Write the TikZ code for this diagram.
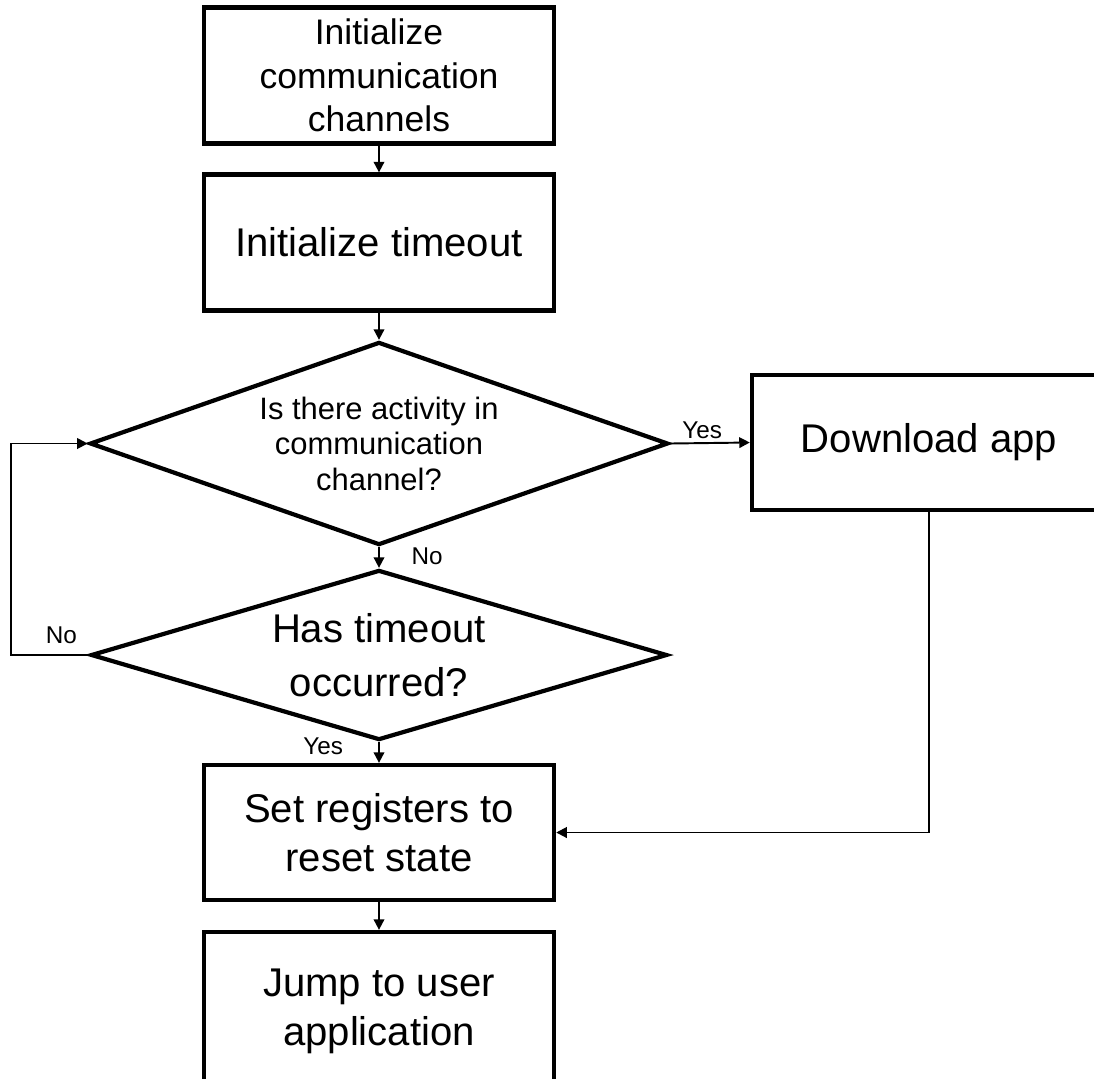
\documentclass[tikz,border=0pt]{standalone}
\usepackage{fontspec}
\setmainfont{Liberation Sans}
\usetikzlibrary{shapes.geometric,arrows.meta}
\tikzset{
 blk/.style={draw,line width=1.2pt,minimum width=3.5cm,minimum height=1.36cm,align=center,inner sep=0pt},
 dec/.style={draw,diamond,line width=1.2pt,align=center,inner sep=0pt},
 conn/.style={line width=0.55pt,-{Triangle[length=3pt,width=3pt]}},
 lbl/.style={font=\fontsize{6.9}{8}\selectfont,inner sep=1pt},
}
\begin{document}
\begin{tikzpicture}[x=0.01cm,y=-0.01cm]
\useasboundingbox(0,0)rectangle(1094,1078);
\node[blk,font=\fontsize{10.1}{12.4}\selectfont](chan)at(379,75.5){Initialize\\communication\\channels};
\node[blk,font=\fontsize{11.4}{14}\selectfont](tmo)at(379,242.5){Initialize timeout};
\node[dec,shape aspect=2.85,minimum width=5.78cm,minimum height=2.03cm,font=\fontsize{8.8}{10.1}\selectfont](act)at(379,443.5){Is there activity in\\communication\\channel?};
\node[dec,shape aspect=3.38,minimum width=5.76cm,minimum height=1.7cm,font=\fontsize{11.4}{15.5}\selectfont](has)at(379,655){Has timeout\\occurred?};
\node[blk,minimum width=3.54cm,minimum height=1.35cm,font=\fontsize{11.4}{14}\selectfont](dl)at(929,442.5){Download app};
\node[blk,minimum height=1.35cm,font=\fontsize{11.4}{14}\selectfont](reg)at(379,832.5){Set registers to\\reset state};
\node[blk,minimum height=1.58cm,font=\fontsize{11.4}{14}\selectfont](jump)at(379,1011){Jump to user\\application};
% flow
\draw[conn](chan)--(tmo);
\draw[conn](tmo)--(act);
\draw[conn](act.east)--node[lbl,above,pos=0.4]{Yes}(dl.west);
\draw[conn](act.south)--node[lbl,right,pos=0.45,xshift=8pt]{No}(has.north);
\draw[conn](has.west)--node[lbl,above,pos=0.35,yshift=2pt]{No}++(-78,0)|-(act.west);
\draw[conn](has.south)--node[lbl,left,pos=0.2,xshift=-9pt]{Yes}(reg.north);
\draw[conn](dl.south)|-(reg.east);
\draw[conn](reg)--(jump);
\end{tikzpicture}
\end{document}
